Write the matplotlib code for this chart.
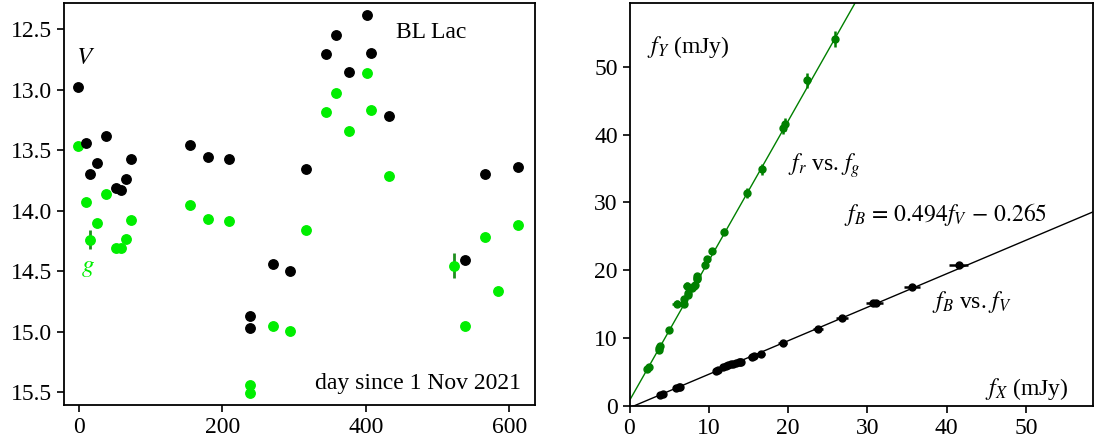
import matplotlib
matplotlib.use("Agg")
import matplotlib.pyplot as plt
import numpy as np

plt.rcParams['font.family'] = 'serif'
plt.rcParams['font.serif'] = ['Liberation Serif', 'DejaVu Serif']
plt.rcParams['mathtext.fontset'] = 'stix'
plt.rcParams['font.size'] = 17

# left panel: light curves (day since 1 Nov 2021, magnitude)
day_V = [-1, 10, 15, 25, 38, 52, 58, 65, 72, 155, 180, 209, 238, 239, 271, 294,
         317, 345, 359, 377, 402, 407, 433, 538, 566, 612]
mag_V = [12.98, 13.44, 13.70, 13.61, 13.38, 13.815, 13.83, 13.74, 13.57, 13.46,
         13.56, 13.57, 14.97, 14.87, 14.44, 14.50, 13.656, 12.71, 12.55, 12.857,
         12.385, 12.70, 13.217, 14.41, 13.70, 13.64]

day_g = [-1, 10, 15, 25, 38, 52, 58, 65, 72, 155, 180, 209, 238, 239, 271, 294,
         317, 345, 359, 377, 402, 407, 433, 523, 538, 566, 584, 612]
mag_g = [13.47, 13.93, 14.24, 14.10, 13.86, 14.31, 14.31, 14.23, 14.08, 13.955,
         14.07, 14.085, 15.51, 15.44, 14.955, 14.99, 14.16, 13.186, 13.025, 13.34,
         12.865, 13.17, 13.71, 14.455, 14.95, 14.22, 14.66, 14.12]
err_g = [0.01, 0.01, 0.08, 0.01, 0.01, 0.01, 0.01, 0.01, 0.01, 0.01,
         0.01, 0.01, 0.01, 0.01, 0.01, 0.01, 0.01, 0.01, 0.01, 0.01,
         0.01, 0.01, 0.01, 0.105, 0.01, 0.01, 0.01, 0.01]

# right panel: flux-flux (mJy)
f_V = [3.85, 4.2, 5.9, 6.2, 6.4, 10.9, 11.1, 11.8, 12.2, 12.4, 12.8, 13.0, 13.4,
       13.8, 13.9, 14.0, 15.4, 15.7, 16.6, 19.3, 23.8, 26.8, 30.7, 31.1, 35.6, 41.5]
f_B = [1.6, 1.8, 2.65, 2.75, 2.85, 5.1, 5.3, 5.7, 5.9, 6.0, 6.2, 6.25, 6.35,
       6.45, 6.5, 6.55, 7.15, 7.3, 7.6, 9.25, 11.3, 13.0, 15.15, 15.25, 17.55, 20.8]
xerr_V = [0.15, 0.15, 0.2, 0.2, 0.2, 0.3, 0.3, 0.3, 0.35, 0.35, 0.35, 0.35, 0.35,
          0.4, 0.4, 0.4, 0.4, 0.45, 0.45, 0.55, 0.65, 0.75, 0.85, 0.9, 1.0, 1.2]

f_g = [25.9, 22.35, 19.55, 19.3, 16.7, 14.8, 11.9, 10.4, 9.74, 9.5, 8.55, 8.5,
       8.45, 8.3, 8.15, 7.85, 7.4, 7.35, 7.3, 6.85, 6.85, 6.0, 4.97, 3.8, 3.78,
       3.66, 2.41, 2.26]
f_r = [54.1, 48.0, 41.5, 41.0, 34.9, 31.4, 25.7, 22.8, 21.6, 20.8, 19.1, 18.9,
       18.7, 17.9, 17.65, 17.4, 16.7, 16.4, 17.75, 15.7, 15.1, 15.1, 11.2, 8.8,
       8.5, 8.3, 5.8, 5.4]
xerr_g = [0.4, 0.35, 0.3, 0.3, 0.25, 0.2, 0.2, 0.15, 0.15, 0.15, 0.15, 0.15,
          0.15, 0.15, 0.15, 0.15, 0.15, 0.15, 0.55, 0.15, 0.15, 0.6, 0.1, 0.1,
          0.1, 0.1, 0.1, 0.1]
yerr_r = [1.2, 1.1, 0.9, 0.9, 0.8, 0.7, 0.5, 0.45, 0.4, 0.4, 0.4, 0.4,
          0.4, 0.4, 0.4, 0.4, 0.35, 0.35, 0.6, 0.35, 0.35, 0.5, 0.3, 0.3,
          0.3, 0.3, 0.3, 0.3]

slope_B, icpt_B = 0.494, -0.265
slope_r, icpt_r = 2.06, 0.8

fig = plt.figure(figsize=(10.94, 4.45), dpi=100)
ax1 = fig.add_axes([64 / 1094, 40 / 445, 471 / 1094, 402 / 445])
ax2 = fig.add_axes([629.5 / 1094, 39 / 445, 463.5 / 1094, 403 / 445])

# left
ax1.errorbar(day_g, mag_g, yerr=err_g, fmt='o', color='#00ee00', ms=6.8,
             ecolor='#1f8f1f', elinewidth=2, capsize=0, zorder=2)
ax1.plot(day_V, mag_V, 'o', color='black', ms=6.8, zorder=3)
ax1.set_xlim(-21, 636)
ax1.set_ylim(15.605, 12.285)
ax1.set_xticks([0, 200, 400, 600])
ax1.set_yticks([12.5, 13.0, 13.5, 14.0, 14.5, 15.0, 15.5])
ax1.text(9, 12.74, '$V$', fontsize=18, va='center', ha='center')
ax1.text(12, 14.47, '$g$', fontsize=18, va='center', ha='center', color='#00ee00')
ax1.text(442, 12.53, 'BL Lac', va='center', ha='left')
ax1.text(617, 15.43, 'day since 1 Nov 2021', va='center', ha='right')

# right
xx = np.linspace(0, 60, 50)
ax2.plot(xx, slope_r * xx + icpt_r, color='green', lw=1, zorder=1)
ax2.plot(xx, slope_B * xx + icpt_B, color='black', lw=1, zorder=1)
ax2.errorbar(f_g, f_r, xerr=xerr_g, yerr=yerr_r, fmt='o', color='green', ms=5,
             elinewidth=1.8, capsize=0, zorder=2)
ax2.errorbar(f_V, f_B, xerr=xerr_V, yerr=0.2, fmt='o', color='black', ms=5,
             elinewidth=1.8, capsize=0, zorder=2)
ax2.set_xlim(0, 58.45)
ax2.set_ylim(0, 59.4)
ax2.set_xticks([0, 10, 20, 30, 40, 50])
ax2.set_yticks([0, 10, 20, 30, 40, 50])
ax2.text(2.2, 52.9, '$f_Y$ (mJy)', va='center', ha='left')
ax2.text(20.0, 35.5, '$f_r$ vs. $f_g$', va='center', ha='left')
ax2.text(27.0, 28.2, r'$f_B\,=\,0.494 f_V\,-\,0.265$', va='center', ha='left')
ax2.text(38.1, 15.4, '$f_B$ vs. $f_V$', va='center', ha='left')
ax2.text(55.3, 2.5, '$f_X$ (mJy)', va='center', ha='right')

for ax in (ax1, ax2):
    for s in ax.spines.values():
        s.set_linewidth(1.3)
    ax.tick_params(width=1.2, length=5)

fig.savefig('out.png', dpi=100)
